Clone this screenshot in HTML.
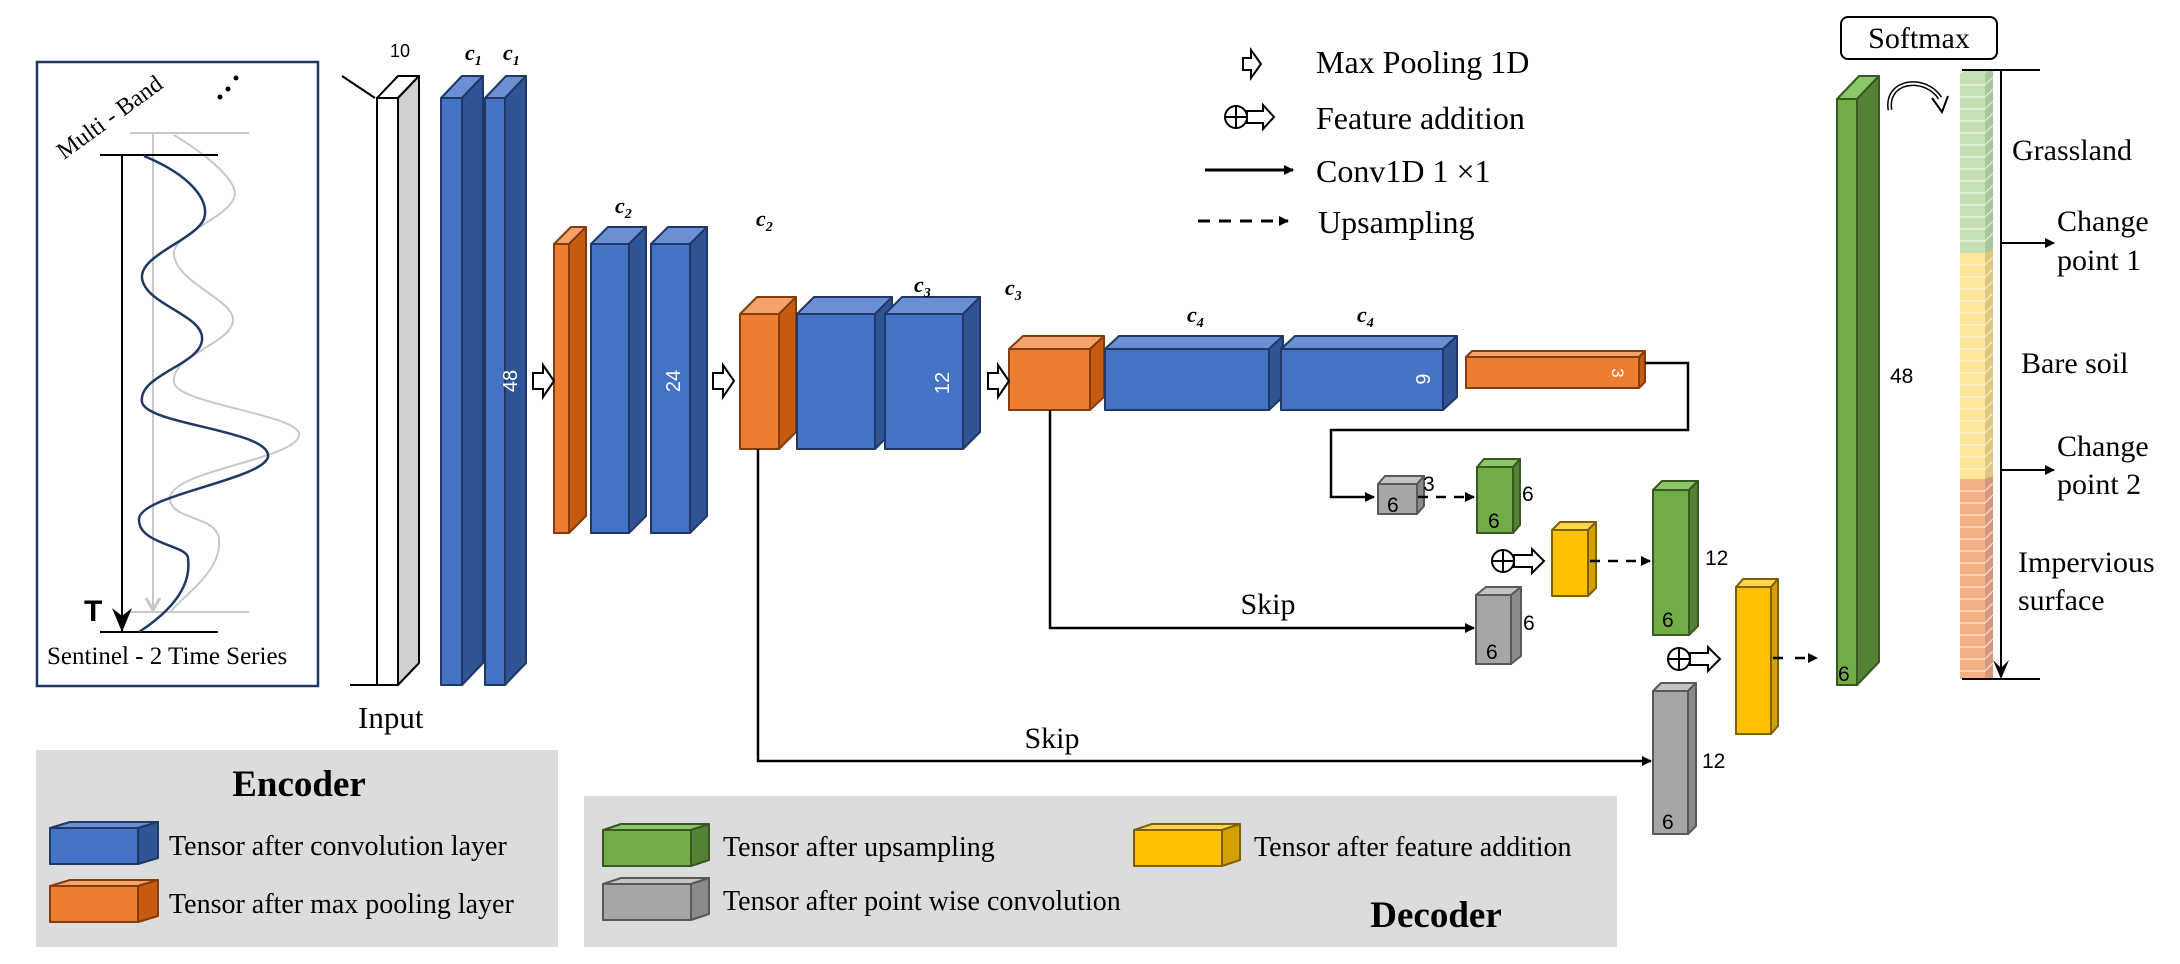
<!DOCTYPE html>
<html><head><meta charset="utf-8"><style>
body{margin:0;background:#fff;}
svg{display:block;}
text{font-family:"Liberation Serif",serif;fill:#000;}
.s{font-family:"Liberation Sans",sans-serif;}
.wt{fill:#fff;font-family:"Liberation Sans",sans-serif;}
</style></head><body>
<svg id="sv" width="2180" height="964" viewBox="0 0 2180 964" xmlns="http://www.w3.org/2000/svg">
<defs>
<marker id="ar" markerWidth="10" markerHeight="10" refX="9" refY="5" orient="auto" markerUnits="userSpaceOnUse"><path d="M0,0 L10,5 L0,10 z" fill="#000"/></marker>
<marker id="arg" markerWidth="16" markerHeight="16" refX="8" refY="14" orient="0" markerUnits="userSpaceOnUse"><path d="M1,2 L8,14 L15,2" fill="none" stroke="#c8c8c8" stroke-width="3"/></marker>
</defs>
<rect x="36" y="750" width="522" height="197" fill="#dcdcdc"/>
<rect x="584" y="796" width="1033" height="151" fill="#dcdcdc"/>
<rect x="37" y="62" width="281" height="624" fill="none" stroke="#1f3864" stroke-width="2.5"/>
<line x1="130" y1="133" x2="249" y2="133" stroke="#c8c8c8" stroke-width="2"/>
<line x1="130" y1="612" x2="249" y2="612" stroke="#c8c8c8" stroke-width="2"/>
<line x1="153" y1="133" x2="153" y2="610" stroke="#c8c8c8" stroke-width="2" marker-end="url(#arg)"/>
<path d="M174,135 C215,160 240,185 234,198 C225,220 170,235 174,256 C180,285 235,300 233,321 C230,345 170,355 174,383 C180,405 305,415 299,436 C292,460 175,470 170,497 C168,520 215,515 219,538 C222,570 190,590 170,612" fill="none" stroke="#c8c8c8" stroke-width="2"/>
<line x1="100" y1="155" x2="218" y2="155" stroke="#000" stroke-width="2"/>
<line x1="100" y1="632" x2="218" y2="632" stroke="#000" stroke-width="2"/>
<line x1="122" y1="155" x2="122" y2="632" stroke="#000" stroke-width="2"/>
<path d="M112,608 L122,632 L132,608 L122,616 z" fill="#000"/>
<path d="M144,156 C190,175 210,200 204,219 C195,240 140,255 142,278 C145,305 205,315 202,340 C200,365 138,375 142,402 C146,425 272,430 268,457 C262,480 140,495 139,519 C138,545 190,545 188,559 C192,590 165,615 139,632" fill="none" stroke="#1f3864" stroke-width="2.5"/>
<text x="84" y="621" class="s" font-size="30" font-weight="bold">T</text>
<text x="0" y="0" font-size="24" transform="translate(64,160) rotate(-36)">Multi - Band</text>
<circle cx="220" cy="97" r="2.5"/><circle cx="228" cy="89" r="2.5"/><circle cx="236" cy="78" r="2.5"/>
<text x="47" y="664" font-size="25">Sentinel  - 2 Time Series</text>
<line x1="342" y1="76" x2="375" y2="98" stroke="#000" stroke-width="2"/>
<line x1="350" y1="685" x2="398" y2="685" stroke="#000" stroke-width="2"/>
<text x="358" y="728" font-size="31">Input</text>
<text x="390" y="57" class="s" font-size="18">10</text>
<g id="boxes"></g>
<g font-family="Liberation Serif,serif" font-style="italic" font-weight="bold" font-size="22">
<text x="465" y="60">c<tspan font-size="14" dy="5">1</tspan></text>
<text x="503" y="60">c<tspan font-size="14" dy="5">1</tspan></text>
<text x="615" y="213">c<tspan font-size="14" dy="5">2</tspan></text>
<text x="756" y="226">c<tspan font-size="14" dy="5">2</tspan></text>
<text x="914" y="292">c<tspan font-size="14" dy="5">3</tspan></text>
<text x="1005" y="295">c<tspan font-size="14" dy="5">3</tspan></text>
<text x="1187" y="322">c<tspan font-size="14" dy="5">4</tspan></text>
<text x="1357" y="322">c<tspan font-size="14" dy="5">4</tspan></text>
</g>
<text transform="translate(517,381) rotate(-90)" text-anchor="middle" class="wt" font-size="20">48</text>
<text transform="translate(680,381) rotate(-90)" text-anchor="middle" class="wt" font-size="20">24</text>
<text transform="translate(949,383) rotate(-90)" text-anchor="middle" class="wt" font-size="20">12</text>
<text transform="translate(1416,379) rotate(90)" text-anchor="middle" class="wt" font-size="20">6</text>
<text transform="translate(1612,373) rotate(90)" text-anchor="middle" class="wt" font-size="17">3</text>
<g fill="#fff" stroke="#000" stroke-width="2">
<path d="M533,373 h10 v-8 l11,16 l-11,16 v-8 h-10 z"/>
<path d="M713,373 h10 v-8 l11,16 l-11,16 v-8 h-10 z"/>
<path d="M988,373 h10 v-8 l11,16 l-11,16 v-8 h-10 z"/>
</g>
<g fill="none" stroke="#000" stroke-width="2.5">
<polyline points="1645,363 1688,363 1688,430 1331,430 1331,497 1374,497" marker-end="url(#ar)"/>
<polyline points="1050,410 1050,628 1474,628" marker-end="url(#ar)"/>
<polyline points="758,449 758,761 1651,761" marker-end="url(#ar)"/>
<line x1="1418" y1="497" x2="1474" y2="497" stroke-dasharray="10,8" marker-end="url(#ar)"/>
<line x1="1590" y1="561" x2="1650" y2="561" stroke-dasharray="10,8" marker-end="url(#ar)"/>
<line x1="1773" y1="658" x2="1817" y2="658" stroke-dasharray="10,12" marker-end="url(#ar)"/>
</g>
<text x="1268" y="614" font-size="30" text-anchor="middle">Skip</text>
<text x="1052" y="748" font-size="30" text-anchor="middle">Skip</text>
<g fill="#fff" stroke="#000" stroke-width="2">
<circle cx="1503" cy="561" r="11"/><line x1="1492" y1="561" x2="1514" y2="561"/><line x1="1503" y1="550" x2="1503" y2="572"/>
<path d="M1514,555 h18 v-6 l12,12 l-12,12 v-6 h-18 z"/>
<circle cx="1679" cy="659" r="11"/><line x1="1668" y1="659" x2="1690" y2="659"/><line x1="1679" y1="648" x2="1679" y2="670"/>
<path d="M1690,653 h18 v-6 l12,12 l-12,12 v-6 h-18 z"/>
</g>
<g font-size="21">
<text x="1387" y="512" class="s">6</text>
<text x="1423" y="491" class="s">3</text>
<text x="1522" y="501" class="s">6</text>
<text x="1488" y="528" class="s">6</text>
<text x="1705" y="565" class="s">12</text>
<text x="1662" y="627" class="s">6</text>
<text x="1523" y="630" class="s">6</text>
<text x="1486" y="659" class="s">6</text>
<text x="1702" y="768" class="s">12</text>
<text x="1662" y="829" class="s">6</text>
<text x="1890" y="383" class="s">48</text>
<text x="1838" y="681" class="s">6</text>
</g>
<path d="M1243,58 h8 v-8 l10,14 l-10,14 v-8 h-8 z" fill="#fff" stroke="#000" stroke-width="2"/>
<text x="1316" y="73" font-size="32">Max Pooling 1D</text>
<g fill="#fff" stroke="#000" stroke-width="2">
<circle cx="1236" cy="117" r="11"/><line x1="1225" y1="117" x2="1247" y2="117"/><line x1="1236" y1="106" x2="1236" y2="128"/>
<path d="M1247,111 h16 v-6 l11,12 l-11,12 v-6 h-16 z"/>
</g>
<text x="1316" y="129" font-size="32">Feature addition</text>
<line x1="1205" y1="170" x2="1293" y2="170" stroke="#000" stroke-width="3" marker-end="url(#ar)"/>
<text x="1316" y="182" font-size="32">Conv1D 1 ×1</text>
<line x1="1198" y1="221" x2="1288" y2="221" stroke="#000" stroke-width="3" stroke-dasharray="12,9" marker-end="url(#ar)"/>
<text x="1318" y="233" font-size="32">Upsampling</text>
<rect x="1841" y="17" width="156" height="42" rx="7" fill="#fff" stroke="#000" stroke-width="2"/>
<text x="1919" y="48" font-size="30" text-anchor="middle">Softmax</text>
<path d="M1890,110 C1885,80 1925,75 1940,98" fill="none" stroke="#000" stroke-width="5"/>
<path d="M1890,110 C1885,80 1925,75 1940,98" fill="none" stroke="#fff" stroke-width="2"/>
<path d="M1932,98 l10,14 l6,-16" fill="none" stroke="#000" stroke-width="2"/>
<g id="bar"></g>
<line x1="1962" y1="70" x2="2040" y2="70" stroke="#000" stroke-width="2"/>
<line x1="1962" y1="679" x2="2040" y2="679" stroke="#000" stroke-width="2"/>
<line x1="2001" y1="70" x2="2001" y2="677" stroke="#000" stroke-width="2"/>
<path d="M1993,660 L2001,679 L2009,660 L2001,668 z"/>
<line x1="2001" y1="243" x2="2054" y2="243" stroke="#000" stroke-width="2" marker-end="url(#ar)"/>
<line x1="2001" y1="470" x2="2054" y2="470" stroke="#000" stroke-width="2" marker-end="url(#ar)"/>
<g font-size="30">
<text x="2012" y="160">Grassland</text>
<text x="2057" y="231">Change</text>
<text x="2057" y="270">point 1</text>
<text x="2021" y="373">Bare soil</text>
<text x="2057" y="456">Change</text>
<text x="2057" y="494">point 2</text>
<text x="2018" y="572">Impervious</text>
<text x="2018" y="610">surface</text>
</g>
<text x="299" y="796" font-size="37" font-weight="bold" text-anchor="middle">Encoder</text>
<text x="169" y="855" font-size="28">Tensor after convolution layer</text>
<text x="169" y="913" font-size="28">Tensor after max pooling layer</text>
<text x="723" y="856" font-size="28">Tensor after upsampling</text>
<text x="723" y="910" font-size="28">Tensor after point wise convolution</text>
<text x="1254" y="856" font-size="28">Tensor after feature addition</text>
<text x="1436" y="927" font-size="37" font-weight="bold" text-anchor="middle">Decoder</text>
</svg>
<script>
var NS="http://www.w3.org/2000/svg";
var C={b:["#4472C4","#6A8FD4","#2F5597","#1F3864"],o:["#ED7D31","#F4A46A","#C55A11","#843C0C"],g:["#70AD47","#8BC766","#548235","#385723"],y:["#FFC000","#FFD54F","#D4A000","#7F6000"],r:["#A6A6A6","#C4C4C4","#8A8A8A","#595959"],w:["#FFFFFF","#FFFFFF","#D0D0D0","#000000"]};
var G=document.getElementById("boxes");
function P(pts,f,s,par){var e=document.createElementNS(NS,"polygon");e.setAttribute("points",pts);e.setAttribute("fill",f);e.setAttribute("stroke",s);e.setAttribute("stroke-width","2");e.setAttribute("stroke-linejoin","round");(par||G).appendChild(e);}
function B(x,y,w,h,dx,dy,c){var k=C[c];
P(x+","+y+" "+(x+w)+","+y+" "+(x+w)+","+(y+h)+" "+x+","+(y+h),k[0],k[3]);
P(x+","+y+" "+(x+dx)+","+(y-dy)+" "+(x+w+dx)+","+(y-dy)+" "+(x+w)+","+y,k[1],k[3]);
P((x+w)+","+y+" "+(x+w+dx)+","+(y-dy)+" "+(x+w+dx)+","+(y+h-dy)+" "+(x+w)+","+(y+h),k[2],k[3]);}
B(377,98,21,587,21,22,"w");
B(441,98,21,587,21,22,"b");
B(485,98,20,587,21,22,"b");
B(554,244,15,289,17,17,"o");
B(591,244,38,289,17,17,"b");
B(651,244,39,289,17,17,"b");
B(740,314,39,135,17,17,"o");
B(797,314,78,135,17,17,"b");
B(885,314,78,135,17,17,"b");
B(1009,349,81,61,14,13,"o");
B(1105,349,164,61,14,13,"b");
B(1281,349,162,61,14,13,"b");
B(1466,357,173,31,6,6,"o");
B(1378,484,39,30,7,8,"r");
B(1477,467,36,66,7,8,"g");
B(1552,530,36,66,8,8,"y");
B(1653,490,36,145,9,9,"g");
B(1476,595,35,69,10,8,"r");
B(1736,587,35,147,7,8,"y");
B(1653,691,35,143,8,8,"r");
B(1837,99,20,586,22,23,"g");
B(50,828,88,36,20,6,"b");
B(50,886,88,36,20,6,"o");
B(603,830,88,36,18,6,"g");
B(603,884,88,36,18,6,"r");
B(1134,830,88,36,18,6,"y");
var bar=document.getElementById("bar");
var segs=[[73,253,"#C5E0B4","#A9C79A"],[253,479,"#FFE699","#E0C77E"],[479,679,"#F4B183","#D6977A"]];
segs.forEach(function(s){
 P("1960,"+s[0]+" 1985,"+s[0]+" 1985,"+s[1]+" 1960,"+s[1],s[2],"none",bar);
 P("1985,"+s[0]+" 1993,"+(s[0]-3)+" 1993,"+s[1]+" 1985,"+s[1],s[3],"none",bar);
 for(var yy=s[0]+12;yy<s[1];yy+=12){
  var l=document.createElementNS(NS,"line");l.setAttribute("x1",1960);l.setAttribute("x2",1985);l.setAttribute("y1",yy);l.setAttribute("y2",yy);l.setAttribute("stroke","#fff");l.setAttribute("stroke-width","1.2");l.setAttribute("opacity","0.7");bar.appendChild(l);
  var m=document.createElementNS(NS,"line");m.setAttribute("x1",1985);m.setAttribute("x2",1993);m.setAttribute("y1",yy);m.setAttribute("y2",yy-8);m.setAttribute("stroke","#fff");m.setAttribute("stroke-width","1.2");m.setAttribute("opacity","0.7");bar.appendChild(m);
 }
});
P("1960,73 1968,70 1993,70 1985,73","#C5E0B4","none",bar);
</script>
</body></html>
